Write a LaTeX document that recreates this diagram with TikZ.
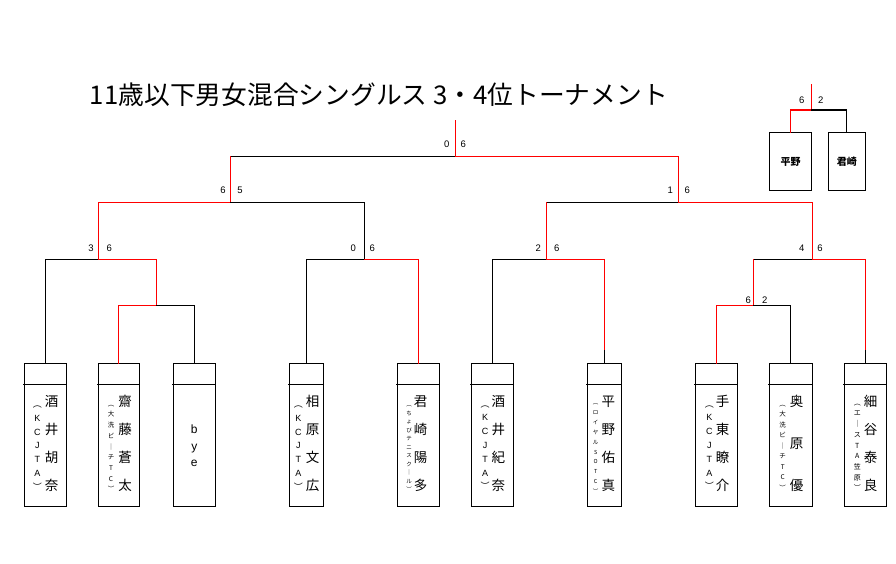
\documentclass[tikz,border=0pt]{standalone}
\usepackage{fontspec}
\setmainfont{Liberation Sans}
\newfontfamily\jp{Noto Sans CJK JP}
\usetikzlibrary{calc}
\tikzset{
  ln/.style={line width=1.1pt, black, line cap=rect},
  win/.style={line width=1.1pt, red, line cap=rect},
  pbox/.style={draw, line width=1.1pt, minimum height=142.7pt, inner sep=0pt, anchor=north},
  mbox/.style={draw, line width=1.1pt, minimum height=57.7pt, inner sep=0pt, anchor=north, font=\jp\fontsize{10}{10}\selectfont\bfseries},
  score/.style={font=\fontsize{9.5}{9.5}\selectfont, inner sep=0pt},
  ch/.style={inner sep=0pt, text height=0.8em, text depth=0.1em},
}
\newcommand\vcol[6]{%
  \foreach \c [count=\i from 0] in {#6} {\node[ch, font=#5] (#1-\i) at (#2, #3+\i*#4) {\c};}}
\newcommand\kfont{\fontsize{9}{9}\selectfont}
\newcommand\nfont{\jp\fontsize{13.5}{13.5}\selectfont}
\begin{document}
\begin{tikzpicture}[x=1pt,y=-1pt]
\fill[white] (0,0) rectangle (896,563);
\useasboundingbox (0,0) rectangle (896,563);

% title
\node[inner sep=0pt] (title) at (379,95) {\resizebox{578pt}{!}{\jp\fontsize{24}{24}\selectfont 11歳以下男女混合シングルス\ 3・4位トーナメント}};

% player boxes
\node[pbox, minimum width=41.7pt] (p1) at (45.2,363.3) {};
\node[pbox, minimum width=41pt] (p2) at (118.8,363.3) {};
\node[pbox, minimum width=41.7pt] (p3) at (194.2,363.3) {};
\node[pbox, minimum width=34pt] (p4) at (306.3,363.3) {};
\node[pbox, minimum width=42pt] (p5) at (418.3,363.3) {};
\node[pbox, minimum width=42pt] (p6) at (492.3,363.3) {};
\node[pbox, minimum width=33.7pt] (p7) at (604.2,363.3) {};
\node[pbox, minimum width=42pt] (p8) at (716.3,363.3) {};
\node[pbox, minimum width=42.7pt] (p9) at (790.7,363.3) {};
\node[pbox, minimum width=42pt] (p10) at (865.3,363.3) {};
\foreach \p in {p1,p2,p3,p4,p5,p6,p7,p8,p9,p10}
  \draw[ln] ($(\p.north west)+(0,21)$) -- ($(\p.north east)+(0,21)$);

% bracket points
\coordinate (top) at (455.3,121);
\coordinate (F) at (455.3,156.3);
\coordinate (SL) at (230.7,202.3);
\coordinate (SR) at (678.3,202.3);
\coordinate (QL1) at (98.3,259.3);
\coordinate (QL2) at (364.3,259.3);
\coordinate (QR1) at (546.3,259.3);
\coordinate (QR2) at (812.3,259.3);
\coordinate (EL) at (156.7,305.3);
\coordinate (ER) at (753.3,305.3);
\coordinate (k7) at ($(p7.north)+(0,-12.6)$);
\coordinate (k10) at ($(p10.north)+(0,-12.6)$);

% final
\draw[win] (top) -- (F);
\draw[ln] (F) -- (F-|SL);
\draw[win] (F-|SL) -- (SL);
\draw[win] (F) -- (F-|SR) -- (SR);
% semis
\draw[win] (SL) -- (SL-|QL1) -- (QL1);
\draw[ln] (SL) -- (SL-|QL2) -- (QL2);
\draw[ln] (SR) -- (SR-|QR1);
\draw[win] (SR-|QR1) -- (QR1);
\draw[win] (SR) -- (SR-|QR2) -- (QR2);
% quarters
\draw[ln] (QL1) -- (QL1-|p1.north) -- (p1.north);
\draw[win] (QL1) -- (QL1-|EL) -- (EL);
\draw[win] (EL) -- (EL-|p2.north) -- (p2.north);
\draw[ln] (EL) -- (EL-|p3.north) -- (p3.north);
\draw[ln] (QL2) -- (QL2-|p4.north) -- (p4.north);
\draw[win] (QL2) -- (QL2-|p5.north) -- (p5.north);
\draw[ln] (QR1) -- (QR1-|p6.north) -- (p6.north);
\draw[win] (QR1) -- (QR1-|p7.north) -- (k7);
\draw[ln] (k7) -- (p7.north);
\draw[ln] (QR2) -- (QR2-|ER);
\draw[win] (QR2-|ER) -- (ER);
\draw[win] (QR2) -- (QR2-|p10.north) -- (k10);
\draw[ln] (k10) -- (p10.north);
\draw[win] (ER) -- (ER-|p8.north) -- (p8.north);
\draw[ln] (ER) -- (ER-|p9.north) -- (p9.north);

% scores
\node[score] (s1a) at (446.7,144.3) {0};
\node[score] (s1b) at (463.3,144.3) {6};
\node[score] (s2a) at (223,190) {6};
\node[score] (s2b) at (240,190) {5};
\node[score] (s3a) at (670.3,190) {1};
\node[score] (s3b) at (687.3,190) {6};
\node[score] (s4a) at (91,248) {3};
\node[score] (s4b) at (109.3,248) {6};
\node[score] (s5a) at (353.3,248) {0};
\node[score] (s5b) at (372.3,248) {6};
\node[score] (s6a) at (538.3,248) {2};
\node[score] (s6b) at (556.7,248) {6};
\node[score] (s7a) at (801.7,248) {4};
\node[score] (s7b) at (820,248) {6};
\node[score] (s8a) at (748.3,300.3) {6};
\node[score] (s8b) at (764.7,300.3) {2};

% mini bracket (top right)
\node[mbox, minimum width=41.6pt] (m1) at (790.5,132.3) {平野};
\node[mbox, minimum width=37pt] (m2) at (846.8,132.3) {君崎};
\coordinate (mtop) at (811.3,85);
\coordinate (M) at (811.3,110);
\draw[win] (mtop) -- (M) -- (M-|m1.north) -- (m1.north);
\draw[ln] (M) -- (M-|m2.north) -- (m2.north);
\node[score] (s9a) at (801.7,100) {6};
\node[score] (s9b) at (820.7,100) {2};

% names and affiliations
\vcol{n1}{51.7}{402.5}{28.2}{\nfont}{酒,井,胡,奈}
\vcol{a1}{37.3}{404}{13.8}{\kfont}{{\jp ︵},K,C,J,T,A,{\jp ︶}}
\vcol{n2}{125}{402.5}{28.2}{\nfont}{齋,藤,蒼,太}
\vcol{a2}{111}{402.7}{10.7}{\jp\fontsize{6.5}{6.5}\selectfont}{︵,大,洗,ビ,｜,チ,T,C,︶}
\vcol{n3}{194.3}{430}{16.5}{\fontsize{12}{12}\selectfont}{b,y,e}
\vcol{n4}{312.7}{402.5}{28.2}{\nfont}{相,原,文,広}
\vcol{a4}{298.3}{404}{13.8}{\kfont}{{\jp ︵},K,C,J,T,A,{\jp ︶}}
\vcol{n5}{420.7}{402.5}{28.2}{\nfont}{君,崎,陽,多}
\vcol{a5}{409}{403}{8.5}{\jp\fontsize{5.5}{5.5}\selectfont}{︵,ち,ょ,び,テ,ニ,ス,ク,｜,ル,︶}
\vcol{n6}{498.3}{402.5}{28.2}{\nfont}{酒,井,紀,奈}
\vcol{a6}{485}{403.5}{13.8}{\kfont}{{\jp ︵},K,C,J,T,A,{\jp ︶}}
\vcol{n7}{608.3}{402.5}{28.2}{\nfont}{平,野,佑,真}
\vcol{a7}{595.7}{401}{9.9}{\jp\fontsize{5.5}{5.5}\selectfont}{︵,ロ,イ,ヤ,ル,S,O,T,C,︶}
\vcol{n8}{722.7}{402.5}{28.2}{\nfont}{手,東,瞭,介}
\vcol{a8}{709.3}{403.5}{13.8}{\kfont}{{\jp ︵},K,C,J,T,A,{\jp ︶}}
\vcol{n9}{796.7}{403}{42}{\nfont}{奥,原,優}
\vcol{a9}{782.7}{402.7}{10.5}{\jp\fontsize{6.5}{6.5}\selectfont}{︵,大,洗,ビ,｜,チ,T,C,︶}
\vcol{n10}{870.7}{402.5}{28.2}{\nfont}{細,谷,泰,良}
\vcol{a10}{857.3}{401.7}{10.7}{\jp\fontsize{7}{7}\selectfont}{︵,エ,｜,ス,T,A,笠,原,︶}
\end{tikzpicture}
\end{document}
